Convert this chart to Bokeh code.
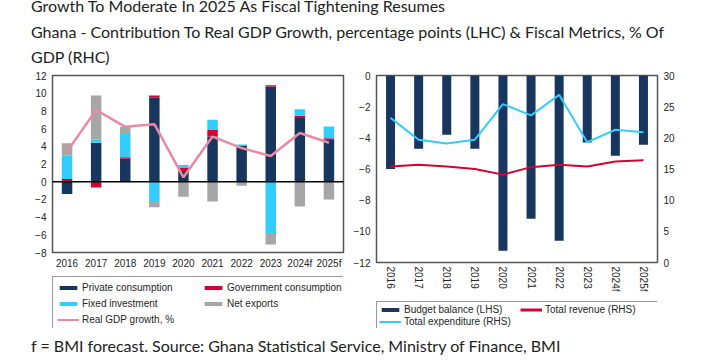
from bokeh.plotting import figure
from bokeh.models import (FactorRange, Range1d, LinearAxis, Legend, LegendItem,
                          Span, FixedTicker, Div)
from bokeh.layouts import column, row
from bokeh.embed import file_html
from bokeh.resources import INLINE

# ---------------- data ----------------
years = ["2016", "2017", "2018", "2019", "2020", "2021", "2022", "2023", "2024f", "2025f"]

# Left chart: contribution to real GDP growth, percentage points
private_consumption = [-1.4, 4.4, 2.6, 9.5, 1.1, 5.1, 4.1, 10.75, 7.2, 4.8]
government_consumption = [0.3, -0.65, 0.15, 0.25, 0.5, 0.75, 0.0, 0.15, 0.25, 0.1]
fixed_investment = [2.65, 0.35, 2.65, -2.3, 0.3, 1.15, 0.1, -5.8, 0.75, 1.35]
net_exports = [1.4, 5.0, 0.8, -0.6, -1.7, -2.25, -0.45, -1.3, -2.8, -2.0]
real_gdp_growth = [3.4, 8.1, 6.2, 6.5, 0.5, 5.1, 3.8, 2.9, 5.5, 4.4]
left_ticks = [-8, -6, -4, -2, 0, 2, 4, 6, 8, 10, 12]

# Right chart: fiscal metrics, % of GDP
budget_balance = [-6.0, -4.7, -3.8, -4.7, -11.25, -9.2, -10.6, -4.3, -5.15, -4.45]
total_revenue = [15.4, 15.7, 15.4, 15.0, 14.1, 15.3, 15.7, 15.4, 16.2, 16.4]
total_expenditure = [23.2, 19.7, 19.1, 19.7, 25.4, 23.6, 26.9, 19.3, 21.3, 20.9]
right_lhs_ticks = [-12, -10, -8, -6, -4, -2, 0]
right_rhs_ticks = [0, 5, 10, 15, 20, 25, 30]

left_legend_labels = ["Private consumption", "Government consumption", "Fixed investment",
                      "Net exports", "Real GDP growth, %"]
right_legend_labels = ["Budget balance (LHS)", "Total revenue (RHS)", "Total expenditure (RHS)"]

title_line1 = "Growth To Moderate In 2025 As Fiscal Tightening Resumes"
title_line2 = "Ghana - Contribution To Real GDP Growth, percentage points (LHC) &amp; Fiscal Metrics, % Of"
title_line3 = "GDP (RHC)"
footer_text = "f = BMI forecast. Source: Ghana Statistical Service, Ministry of Finance, BMI"

# ---------------- styles ----------------
NAVY = "#17375e"
RED = "#d50032"
CYAN = "#33ccff"
GREY = "#a6a6a6"
PINK = "#ea8aa2"
AXFONT = "Liberation Sans"
TXT = "#262626"


def stack_signed(series_list):
    n = len(series_list[0])
    pos = [0.0] * n
    neg = [0.0] * n
    out = []
    for s in series_list:
        b, t = [], []
        for i, v in enumerate(s):
            if v >= 0:
                b.append(pos[i])
                pos[i] += v
                t.append(pos[i])
            else:
                t.append(neg[i])
                neg[i] += v
                b.append(neg[i])
        out.append((b, t))
    return out


def style_axis(ax, standoff):
    ax.axis_line_color = None
    ax.major_tick_line_color = None
    ax.minor_tick_line_color = None
    ax.major_tick_out = 0
    ax.major_tick_in = 0
    ax.major_label_text_font = AXFONT
    ax.major_label_text_font_size = "10px"
    ax.major_label_text_color = TXT
    ax.major_label_standoff = standoff


def legend_figure(width, height, entries, label_width, spacing, padding, label_height, left):
    """A strip that holds only a legend; entries = (label, kind, color, line_width).
    Its swatch renderers sit outside the visible range so that only the legend shows."""
    lf = figure(width=width, height=height, x_range=Range1d(0, 1), y_range=Range1d(0, 1),
                output_backend="svg", toolbar_location=None,
                min_border_left=left, min_border_right=0, min_border_top=0, min_border_bottom=0)
    lf.axis.visible = False
    lf.grid.visible = False
    lf.outline_line_color = None
    items = []
    for label, kind, color, lw in entries:
        if kind == "bar":
            r = lf.vbar(x=[-5], top=[-5], bottom=[-6], width=0.1, fill_color=color, line_color=None)
        else:
            r = lf.line(x=[-6, -5], y=[-5, -5], line_color=color, line_width=lw)
        items.append(LegendItem(label=label, renderers=[r]))
    lg = Legend(items=items, location="top_left", orientation="horizontal", ncols=2,
                glyph_width=22, glyph_height=5, label_height=label_height, label_standoff=3,
                label_text_font=AXFONT, label_text_font_size="10px", label_text_color=TXT,
                border_line_color="#333333", border_line_width=1,
                background_fill_color="white", margin=0, padding=padding, spacing=spacing,
                label_width=label_width)
    lf.add_layout(lg, "center")
    return lf


# ---------------- left chart ----------------
p1 = figure(x_range=FactorRange(factors=years), y_range=Range1d(-8, 12),
            width=350, height=208, output_backend="svg", toolbar_location=None,
            min_border_left=52, min_border_right=7, min_border_top=7, min_border_bottom=24)
p1.xgrid.visible = False
p1.ygrid.visible = False
p1.outline_line_color = "#555555"
p1.outline_line_width = 1.5
p1.yaxis.ticker = FixedTicker(ticks=left_ticks)
style_axis(p1.yaxis[0], 6)
style_axis(p1.xaxis[0], 5)

stacks = stack_signed([private_consumption, government_consumption, fixed_investment, net_exports])
colors = [NAVY, RED, CYAN, GREY]
for (b, t), c in zip(stacks, colors):
    p1.vbar(x=years, bottom=b, top=t, width=0.36, fill_color=c, line_color=None)

p1.add_layout(Span(location=0, dimension="width", line_color="black", line_width=1.5))
p1.line(x=years, y=real_gdp_growth, line_color=PINK, line_width=2.5)

leg1 = legend_figure(
    350, 52,
    [(left_legend_labels[0], "bar", NAVY, 0), (left_legend_labels[1], "bar", RED, 0),
     (left_legend_labels[2], "bar", CYAN, 0), (left_legend_labels[3], "bar", GREY, 0),
     (left_legend_labels[4], "line", PINK, 2)],
    label_width=116, spacing=4, padding=4, label_height=12, left=52)

# ---------------- right chart ----------------
p2 = figure(x_range=FactorRange(factors=years), y_range=Range1d(-12, 0),
            width=350, height=233, output_backend="svg", toolbar_location=None,
            min_border_left=24, min_border_right=43, min_border_top=7, min_border_bottom=39)
p2.xgrid.visible = False
p2.ygrid.visible = False
p2.outline_line_color = "#555555"
p2.outline_line_width = 1.5
p2.extra_y_ranges = {"rhs": Range1d(0, 30)}
p2.yaxis.ticker = FixedTicker(ticks=right_lhs_ticks)
style_axis(p2.yaxis[0], 6)
style_axis(p2.xaxis[0], 4)
p2.xaxis.major_label_orientation = "vertical"
rax = LinearAxis(y_range_name="rhs", ticker=FixedTicker(ticks=right_rhs_ticks))
style_axis(rax, 6)
p2.add_layout(rax, "right")

p2.vbar(x=years, top=0, bottom=budget_balance, width=0.32, fill_color=NAVY, line_color=None)
p2.line(x=years, y=total_revenue, y_range_name="rhs", line_color=RED, line_width=2)
p2.line(x=years, y=total_expenditure, y_range_name="rhs", line_color=CYAN, line_width=2)

leg2 = legend_figure(
    350, 27,
    [(right_legend_labels[0], "bar", NAVY, 0), (right_legend_labels[1], "line", RED, 3),
     (right_legend_labels[2], "line", CYAN, 2)],
    label_width=115, spacing=1, padding=2, label_height=11, left=23)

# ---------------- texts ----------------
TXT_STYLE = "font-family: Lato; font-size: 16px; color: #222222; white-space: nowrap;"
title_html = (
    f'<div style="position: relative; top: -7px; line-height: 25.5px; {TXT_STYLE}">'
    f'{title_line1}<br>{title_line2}<br>{title_line3}</div>'
)
title = Div(text=title_html, width=680, height=68, margin=(0, 0, 0, 31))
footer_html = f'<div style="line-height: 18px; {TXT_STYLE}">{footer_text}</div>'
footer = Div(text=footer_html, width=680, height=18, margin=(9, 0, 0, 31))

layout = column(title, row(column(p1, leg1), column(p2, leg2)), footer)
open("out.html", "w").write(file_html(layout, INLINE))
